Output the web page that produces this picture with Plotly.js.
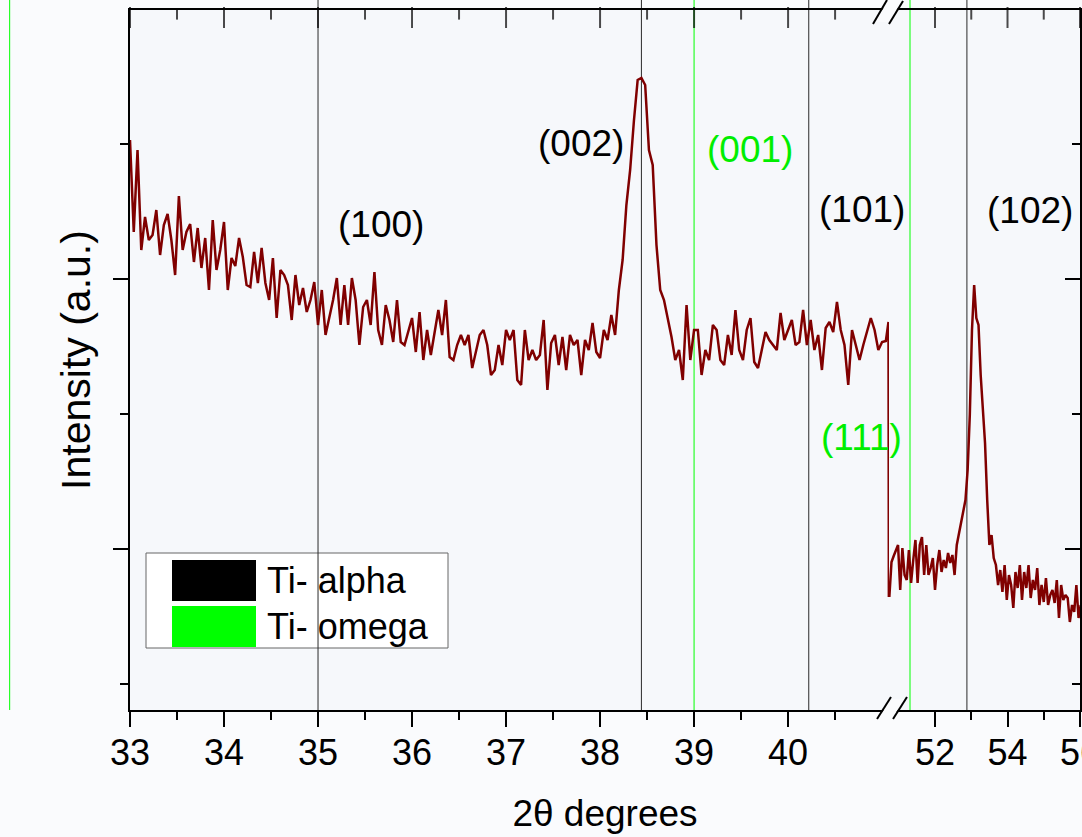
<!DOCTYPE html>
<html><head><meta charset="utf-8">
<script src="https://cdn.plot.ly/plotly-3.0.1.min.js"></script>
<style>html,body{margin:0;padding:0;background:#fafbfd;}#chart{width:1082px;height:837px;}</style>
</head><body><div id="chart"></div>
<script>
// ---- data: 2theta (deg) and intensity (a.u.) ----
const leftTheta = [
33.00,33.04,33.08,33.12,33.16,33.20,33.24,33.28,33.32,33.36,
33.40,33.44,33.48,33.52,33.56,33.60,33.64,33.68,33.72,33.76,
33.80,33.84,33.88,33.92,33.96,34.00,34.04,34.08,34.12,34.16,
34.20,34.24,34.28,34.32,34.36,34.40,34.44,34.48,34.52,34.56,
34.60,34.64,34.68,34.72,34.76,34.80,34.84,34.88,34.92,34.96,
35.00,35.04,35.08,35.12,35.16,35.20,35.24,35.28,35.32,35.36,
35.40,35.44,35.48,35.52,35.56,35.60,35.64,35.68,35.72,35.76,
35.80,35.84,35.88,35.92,35.96,36.00,36.04,36.08,36.12,36.16,
36.20,36.24,36.28,36.32,36.36,36.40,36.44,36.48,36.52,36.56,
36.60,36.64,36.68,36.72,36.76,36.80,36.84,36.88,36.92,36.96,
37.00,37.04,37.08,37.12,37.16,37.20,37.24,37.28,37.32,37.36,
37.40,37.44,37.48,37.52,37.56,37.60,37.64,37.68,37.72,37.76,
37.80,37.84,37.88,37.92,37.96,38.00,38.04,38.08,38.12,38.16,
38.20,38.24,38.28,38.32,38.36,38.40,38.44,38.48,38.52,38.56,
38.60,38.64,38.68,38.72,38.76,38.80,38.84,38.88,38.92,38.96,
39.00,39.04,39.08,39.12,39.16,39.20,39.24,39.28,39.32,39.36,
39.40,39.44,39.48,39.52,39.56,39.60,39.64,39.68,39.72,39.76,
39.80,39.84,39.88,39.92,39.96,40.00,40.04,40.08,40.12,40.16,
40.20,40.24,40.28,40.32,40.36,40.40,40.44,40.48,40.52,40.56,
40.60,40.64,40.68,40.72,40.76,40.80,40.84,40.88,40.92,40.96,
41.00,41.04,41.068,41.072];
const leftCounts = [
679,587,669,569,602,579,584,609,564,594,
605,579,544,623,569,587,595,557,591,551,
581,529,599,549,569,597,529,561,553,581,
562,534,532,567,536,571,536,519,561,501,
549,544,534,499,544,514,531,507,519,537,
494,529,484,501,519,541,494,534,494,541,
519,474,512,519,494,547,489,474,514,499,
477,519,477,474,487,501,467,507,459,489,
464,489,509,484,519,462,459,474,484,474,
484,451,469,484,489,474,444,449,474,454,
489,479,489,439,434,489,459,469,459,464,
499,429,476,484,454,482,449,484,474,479,
444,479,469,496,467,461,489,479,504,484,
529,559,614,649,698,739,741,734,669,654,
574,529,519,501,482,459,469,439,514,459,
489,489,444,469,459,494,489,459,454,484,
464,509,469,459,489,501,457,451,469,487,
479,474,469,506,479,489,499,474,477,509,
474,499,469,484,449,491,497,487,517,489,
474,434,489,474,459,474,489,501,489,469,
477,478,497,222];
const rightTheta = [
50.74,50.80,50.86,50.92,50.98,51.04,51.10,51.16,51.22,51.28,
51.34,51.40,51.46,51.52,51.58,51.64,51.70,51.76,51.82,51.88,
51.94,52.00,52.06,52.12,52.18,52.24,52.30,52.36,52.42,52.48,
52.54,52.60,52.66,52.72,52.78,52.84,52.90,52.96,53.02,53.08,
53.14,53.20,53.26,53.32,53.38,53.44,53.50,53.56,53.62,53.68,
53.74,53.80,53.86,53.92,53.98,54.04,54.10,54.16,54.22,54.28,
54.34,54.40,54.46,54.52,54.58,54.64,54.70,54.76,54.82,54.88,
54.94,55.00,55.06,55.12,55.18,55.24,55.30,55.36,55.42,55.48,
55.54,55.60,55.66,55.72,55.78,55.84,55.90,55.96,56.02];
const rightCounts = [
222,257,263,269,274,229,271,244,239,269,
236,259,279,236,274,282,244,274,244,251,
261,229,254,269,247,259,251,266,256,264,
244,274,286,297,307,319,349,404,489,534,
501,494,444,414,376,319,274,284,261,254,
234,249,227,254,219,244,234,211,247,231,
254,219,247,231,254,221,239,229,251,214,
234,217,241,214,224,229,216,239,201,234,
219,224,221,197,214,207,234,201,214];

const leftRange = [33, 41.074];
const rightRange = [50.732, 56];
const countRange = [109, 809];
const leftTicks = [33,34,35,36,37,38,39,40];
const leftMinorTicks = [33.5,34.5,35.5,36.5,37.5,38.5,39.5,40.5];
const rightTicks = [52,54,56];
const rightMinorTicks = [53,55];
const countMajorTicks = [270,540];
const countMinorTicks = [135,405,675];

const alphaTheta = [35.0, 38.44, 40.22, 52.88];
const omegaTheta = [31.72, 39.0, 51.31];
const labelText  = ['(100)','(002)','(001)','(101)','(111)','(102)'];
const labelTheta = [35.67, 37.80, 39.60, 40.79, 40.78, 54.61];
const labelCount = [595, 676, 670, 610, 382, 609];
const labelPhase = ['alpha','alpha','omega','alpha','omega','alpha'];
const legendNames = ['Ti- alpha','Ti- omega'];
const legendColors = ['#000000','#00ff00'];

// ---- styling / layout ----
const FONT = 'Liberation Sans, Arial, sans-serif';
const BREAK = 0.799;
const PAPER = '#fafbfd';
const PLOTBG = '#f6f8fb';
const phaseColor = {alpha:'#2a2a2a', omega:'#00ff00'};
const labelColor = {alpha:'#000000', omega:'#00ee00'};
const ML = 130, MT = 10, PW = 950, PH = 700;
const MAJLEN = 15, MINLEN = 8;
const px = v => (v - ML) / PW;          // pixel -> paper (decorations only)
const py = v => (MT + PH - v) / PH;

function lineShape(theta, color) {
  const base = {type:'line', yref:'paper', y0:0, y1:1 + MT/PH, layer:'below',
                line:{color:color, width:1}};
  if (theta >= leftRange[0] && theta <= leftRange[1]) return Object.assign(base, {xref:'x', x0:theta, x1:theta});
  if (theta >= rightRange[0] && theta <= rightRange[1]) return Object.assign(base, {xref:'x2', x0:theta, x1:theta});
  const p = BREAK * (theta - leftRange[0]) / (leftRange[1] - leftRange[0]);
  return Object.assign(base, {xref:'paper', x0:p, x1:p});
}

const shapes = [];
shapes.push({type:'rect', xref:'paper', yref:'paper', x0:0, x1:1, y0:0, y1:1, fillcolor:PLOTBG, line:{width:0}, layer:'below'});
shapes.push({type:'rect', xref:'paper', yref:'paper', x0:px(146), x1:px(448), y0:py(648), y1:py(553),
  fillcolor:'#ffffff', line:{color:'#666666', width:1}, layer:'below'});
legendColors.forEach((c, i) => {
  shapes.push({type:'rect', xref:'paper', yref:'paper', x0:px(172), x1:px(256),
    y0:py(601 + i*46), y1:py(560 + i*46), fillcolor:c, line:{width:0}, layer:'below'});
});
alphaTheta.forEach(t => shapes.push(lineShape(t, phaseColor.alpha)));
omegaTheta.forEach(t => shapes.push(lineShape(t, phaseColor.omega)));

function brk(a, b, c, d) {
  shapes.push({type:'path', xref:'paper', yref:'paper', layer:'above', line:{width:0}, fillcolor:PAPER,
    path:`M${px(a[0]+2)},${py(a[1]-2)} L${px(b[0])},${py(b[1]+2)} L${px(d[0]-2)},${py(d[1]+2)} L${px(c[0])},${py(c[1]-2)} Z`});
  shapes.push({type:'line', xref:'paper', yref:'paper', layer:'above', x0:px(a[0]), y0:py(a[1]), x1:px(b[0]), y1:py(b[1]), line:{color:'#000', width:2}});
  shapes.push({type:'line', xref:'paper', yref:'paper', layer:'above', x0:px(c[0]), y0:py(c[1]), x1:px(d[0]), y1:py(d[1]), line:{color:'#000', width:2}});
}
brk([877,719],[891,697],[893,719],[907,697]);
brk([873,24],[887,0],[889,24],[903,1]);

const annotations = labelText.map((t, i) => ({
  text:t, x:labelTheta[i], y:labelCount[i], xref: labelTheta[i] > leftRange[1] ? 'x2' : 'x', yref:'y',
  showarrow:false, xanchor:'center', yanchor:'middle',
  font:{family:FONT, size:37, color:labelColor[labelPhase[i]]}
}));
legendNames.forEach((n, i) => annotations.push({
  text:n, xref:'paper', yref:'paper', x:px(265), y:py(580 + i*46), xanchor:'left', yanchor:'middle',
  showarrow:false, font:{family:FONT, size:36, color:'#000'}
}));

// inward ticks hanging from the top frame: vertical-bar markers placed on the tick values
const unitsPerPx = (countRange[1] - countRange[0]) / PH;
function tickMarks(major, minor) {
  const xs = [], ys = [], sz = [];
  major.forEach(v => { xs.push(v); ys.push(countRange[1] - MAJLEN/2*unitsPerPx); sz.push(MAJLEN); });
  minor.forEach(v => { xs.push(v); ys.push(countRange[1] - MINLEN/2*unitsPerPx); sz.push(MINLEN); });
  return {x:xs, y:ys, size:sz};
}
const topLeft = tickMarks(leftTicks, leftMinorTicks);
const topRight = tickMarks(rightTicks, rightMinorTicks);

const traceStyle = {type:'scatter', mode:'lines', line:{color:'#800000', width:2.5}, hoverinfo:'skip', showlegend:false};
function tickTrace(t, xa) {
  return {type:'scatter', mode:'markers', x:t.x, y:t.y, xaxis:xa, yaxis:'y', cliponaxis:false,
    marker:{symbol:'line-ns', size:t.size, color:'#000000', line:{color:'#000000', width:2}},
    hoverinfo:'skip', showlegend:false};
}
const ghost = {type:'scatter', mode:'lines', opacity:0, hoverinfo:'skip', showlegend:false};
const data = [
  Object.assign({x:leftTheta, y:leftCounts, xaxis:'x', yaxis:'y'}, traceStyle),
  Object.assign({x:rightTheta, y:rightCounts, xaxis:'x2', yaxis:'y'}, traceStyle),
  tickTrace(topLeft, 'x'),
  tickTrace(topRight, 'x2'),
  // transparent copies so the frame axes (top, right, shared title axis) are created
  Object.assign({x:leftTheta, y:leftCounts, xaxis:'x3', yaxis:'y'}, ghost),
  Object.assign({x:rightTheta, y:rightCounts, xaxis:'x4', yaxis:'y'}, ghost),
  Object.assign({x:rightTheta, y:rightCounts, xaxis:'x2', yaxis:'y2'}, ghost),
  Object.assign({x:rightTheta, y:rightCounts, xaxis:'x5', yaxis:'y'}, ghost)
];

const axCommon = {showgrid:false, zeroline:false, showline:true, linecolor:'#000', linewidth:2,
  tickcolor:'#000', tickwidth:2, ticklen:MAJLEN, tickmode:'array', fixedrange:true,
  tickfont:{family:FONT, size:36, color:'#000'}};
function xAx(domain, range, ticks, minor, labels) {
  return Object.assign({}, axCommon, {domain:domain, range:range, tickvals:ticks, ticktext:ticks.map(String),
    side:'bottom', ticks:'outside', showticklabels:labels, anchor:'y', ticklabelstandoff:-5,
    ticklabeloverflow:'allow',
    minor:{tickmode:'array', tickvals:minor, ticks:'outside', ticklen:MINLEN, tickwidth:2, tickcolor:'#000', showgrid:false}});
}
function topAx(range, over) {
  return {range:range, overlaying:over, anchor:'y', side:'top', showline:true, linecolor:'#000', linewidth:2,
    ticks:'', showticklabels:false, showgrid:false, zeroline:false, fixedrange:true};
}
const layout = {
  width:1082, height:837, autosize:false,
  margin:{l:ML, r:2, t:MT, b:127, pad:0},
  paper_bgcolor:PAPER, plot_bgcolor:'rgba(0,0,0,0)',
  font:{family:FONT, color:'#000'},
  showlegend:false,
  xaxis: xAx([0, BREAK], leftRange, leftTicks, leftMinorTicks, true),
  xaxis2: xAx([BREAK, 1], rightRange, rightTicks, rightMinorTicks, true),
  xaxis3: topAx(leftRange, 'x'),
  xaxis4: topAx(rightRange, 'x2'),
  xaxis5: {domain:[0,1], range:[0,1], anchor:'y', showline:false, showgrid:false, zeroline:false,
    ticks:'', showticklabels:false, fixedrange:true,
    title:{text:'2θ degrees', font:{family:FONT, size:37, color:'#000'}, standoff:90}},
  yaxis: Object.assign({}, axCommon, {domain:[0,1], range:countRange, anchor:'x', side:'left', ticks:'outside',
    tickvals:countMajorTicks, showticklabels:false,
    minor:{tickmode:'array', tickvals:countMinorTicks, ticks:'outside', ticklen:MINLEN, tickwidth:2, tickcolor:'#000', showgrid:false},
    title:{text:'Intensity (a.u.)', font:{family:FONT, size:41, color:'#000'}, standoff:10}}),
  yaxis2: Object.assign({}, axCommon, {range:countRange, anchor:'x2', overlaying:'y', side:'right', ticks:'inside',
    tickvals:countMajorTicks, showticklabels:false,
    minor:{tickmode:'array', tickvals:countMinorTicks, ticks:'inside', ticklen:MINLEN, tickwidth:2, tickcolor:'#000', showgrid:false}}),
  shapes: shapes,
  annotations: annotations
};
Plotly.newPlot('chart', data, layout, {displayModeBar:false, staticPlot:true});
</script></body></html>
